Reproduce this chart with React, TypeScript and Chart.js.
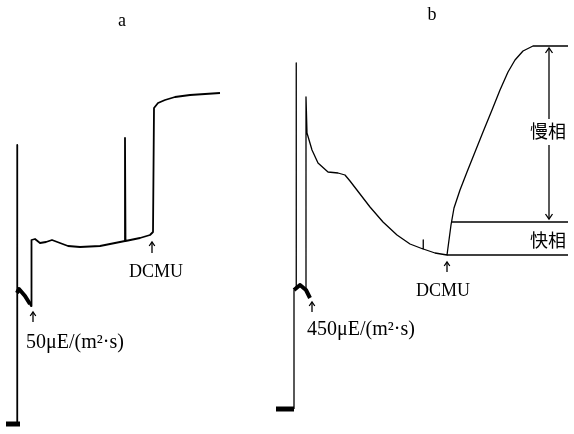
import React, { useEffect, useRef } from "react";
import { Chart, registerables } from "chart.js";

Chart.register(...registerables);

// Panel a trace: time (arb. units) vs fluorescence (arb. units)
const aTime = [17, 17, 17.5, 19, 22, 26, 30, 31, 31.5, 35, 40, 46, 52, 60, 68, 80, 100, 115, 125, 125, 125.5, 140, 150, 153, 154, 158, 165, 175, 190, 205, 220];
const aSignal = [10, 289, 141, 145, 142, 136, 130, 128, 194, 195, 191, 192, 194, 191, 188, 187, 188, 191, 193, 296, 193, 196, 199, 202, 326, 331, 334, 337, 339, 340, 341];
const aOnsetTime = [17, 19, 25, 30];
const aOnsetSignal = [141, 145, 138, 130];
const aDarkTime = [6, 20];
const aDarkSignal = [10, 10];

// Panel b trace
const bTime = [294, 294, 296, 296, 296.5, 300, 304, 306, 306, 307, 312, 318, 328, 338, 345, 350, 360, 370, 383, 397, 410, 423, 423, 423.5, 435, 447, 449, 451, 454, 460, 467, 475, 483, 492, 500, 508, 515, 523, 533, 568];
const bSignal = [25, 144, 147, 371, 147, 150, 146, 144, 337, 301, 284, 271, 262, 261, 259, 253, 240, 227, 212, 199, 190, 185, 194, 185, 181, 179, 194, 209, 226, 244, 262, 282, 302, 324, 344, 362, 374, 383, 388, 388];
const bOnsetTime = [294, 300, 306, 310];
const bOnsetSignal = [144, 149, 144, 136];
const bDarkTime = [276, 294];
const bDarkSignal = [25, 25];
const fastLineTime = [452, 568];
const fastLineSignal = [212, 212];
const baseLineTime = [447, 568];
const baseLineSignal = [179, 179];

// Text labels
const labelTexts = ["a", "b", "50μE/(m²·s)", "DCMU", "450μE/(m²·s)", "DCMU", "慢相", "快相"];
const labelTime = [122, 432, 75, 156, 361, 443, 548, 548];
const labelSignal = [413, 419, 91, 162, 104, 143, 303, 194];
const labelSize = [18, 18, 20, 18, 20, 18, 18, 18];
const labelCJK = [false, false, false, false, false, false, true, true];

// Up arrows (time, from signal, to signal)
const arrowTime = [33, 152, 312, 447];
const arrowFrom = [112, 181, 122, 162];
const arrowTo = [122, 192, 132, 172];

// Double arrow for slow phase
const slowArrowTime = 549;
const slowTopFrom = 315;
const slowTopTo = 386;
const slowBottomFrom = 289;
const slowBottomTo = 215;

function pts(xs: number[], ys: number[]) {
  return xs.map((x, i) => ({ x, y: ys[i] }));
}

function ds(xs: number[], ys: number[], width: number) {
  return {
    data: pts(xs, ys),
    showLine: true,
    borderColor: "#000",
    backgroundColor: "#000",
    borderWidth: width,
    pointRadius: 0,
    tension: 0,
    clip: false as any,
    borderJoinStyle: "round" as const,
    borderCapStyle: "butt" as const,
  };
}

const annotationPlugin = {
  id: "annotations",
  afterDatasetsDraw(chart: any) {
    const { ctx, scales } = chart;
    const xs = scales.x;
    const ys = scales.y;
    ctx.save();
    ctx.fillStyle = "#000";
    ctx.strokeStyle = "#000";
    ctx.textAlign = "center";
    ctx.textBaseline = "middle";
    labelTexts.forEach((t, i) => {
      ctx.font = labelCJK[i]
        ? `${labelSize[i]}px "Noto Sans CJK SC"`
        : `${labelSize[i]}px "Liberation Serif", "Times New Roman", serif`;
      ctx.fillText(t, xs.getPixelForValue(labelTime[i]), ys.getPixelForValue(labelSignal[i]));
    });
    const arrow = (x: number, y0: number, y1: number, head: number) => {
      ctx.beginPath();
      ctx.moveTo(x, y0);
      ctx.lineTo(x, y1);
      ctx.stroke();
      const dir = y1 < y0 ? 1 : -1;
      ctx.beginPath();
      ctx.moveTo(x - head * 0.7, y1 + dir * head);
      ctx.lineTo(x, y1);
      ctx.lineTo(x + head * 0.7, y1 + dir * head);
      ctx.stroke();
    };
    ctx.lineWidth = 1.3;
    arrowTime.forEach((t, i) => {
      arrow(xs.getPixelForValue(t), ys.getPixelForValue(arrowFrom[i]), ys.getPixelForValue(arrowTo[i]), 4);
    });
    const sx = xs.getPixelForValue(slowArrowTime);
    arrow(sx, ys.getPixelForValue(slowTopFrom), ys.getPixelForValue(slowTopTo), 5);
    arrow(sx, ys.getPixelForValue(slowBottomFrom), ys.getPixelForValue(slowBottomTo), 5);
    ctx.restore();
  },
};

export default function App() {
  const ref = useRef<HTMLCanvasElement | null>(null);
  useEffect(() => {
    if (!ref.current) return;
    const chart = new Chart(ref.current, {
      type: "scatter",
      data: {
        datasets: [
          ds(aTime, aSignal, 1.8),
          ds(aOnsetTime, aOnsetSignal, 4),
          ds(aDarkTime, aDarkSignal, 5),
          ds(bTime, bSignal, 1.3),
          ds(bOnsetTime, bOnsetSignal, 4),
          ds(bDarkTime, bDarkSignal, 5),
          ds(fastLineTime, fastLineSignal, 1.3),
          ds(baseLineTime, baseLineSignal, 1.3),
        ] as any,
      },
      options: {
        animation: false,
        responsive: false,
        layout: { padding: 0 },
        plugins: { legend: { display: false }, tooltip: { enabled: false } },
        scales: {
          x: { type: "linear", min: 0, max: 574, display: false },
          y: { type: "linear", min: 0, max: 434, display: false },
        },
      },
      plugins: [annotationPlugin],
    });
    return () => chart.destroy();
  }, []);
  return (
    <div style={{ position: "fixed", left: 0, top: 0, width: 574, height: 434, background: "#fff" }}>
      <canvas ref={ref} width={574} height={434} style={{ display: "block" }} />
    </div>
  );
}
